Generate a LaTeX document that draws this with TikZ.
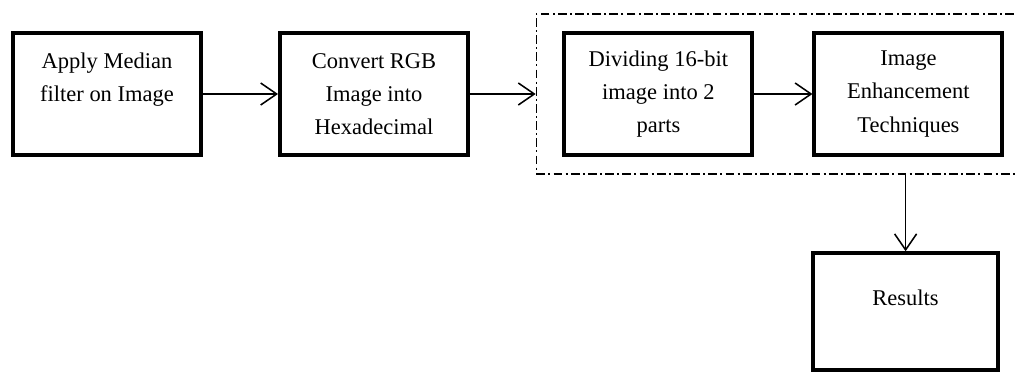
\documentclass[tikz,border=0pt]{standalone}
\usepackage{fontspec}
\setmainfont{Liberation Serif}
\usetikzlibrary{arrows.meta, fit}

\tikzset{
  block/.style={draw, line width=2.8pt, minimum width=4.7cm, minimum height=3.05cm, inner sep=0pt, align=center, font=\rmfamily\fontsize{16}{23.5}\selectfont},
  link/.style={line width=1.1pt, -{Straight Barb[length=0.4cm, width=0.55cm]}},
  group/.style={draw, line width=1.1pt, dash pattern=on 0.22cm off 0.08cm on 0.05cm off 0.08cm, inner xsep=0.65cm, inner ysep=0.43cm}
}

\begin{document}
\begin{tikzpicture}

\useasboundingbox (0,0) rectangle (25.4,-9.35);

\node[block] (median) at (2.675, -2.35) {Apply Median\\filter on Image\\ \mbox{}};
\node[block] (hexa) at (9.35, -2.35) {Convert RGB\\Image into\\Hexadecimal};
\node[block] (divide) at (16.46, -2.35) {Dividing 16-bit\\image into 2\\parts};
\node[block] (enhance) at (22.71, -2.35) {Image\\Enhancement\\Techniques};
\node[block, minimum width=4.62cm, minimum height=2.92cm] (results) at (22.64, -7.79) {Results\\[-0.15cm] \mbox{}};

\node[group, fit=(divide)(enhance)] (stage) {};

\draw[link] (median.east) -- (hexa.west);
\draw[link] (hexa.east) -- (hexa.east -| stage.west);
\draw[link] (divide.east) -- (enhance.west);
\draw[link] (stage.south -| results.north) -- (results.north);

\end{tikzpicture}
\end{document}
